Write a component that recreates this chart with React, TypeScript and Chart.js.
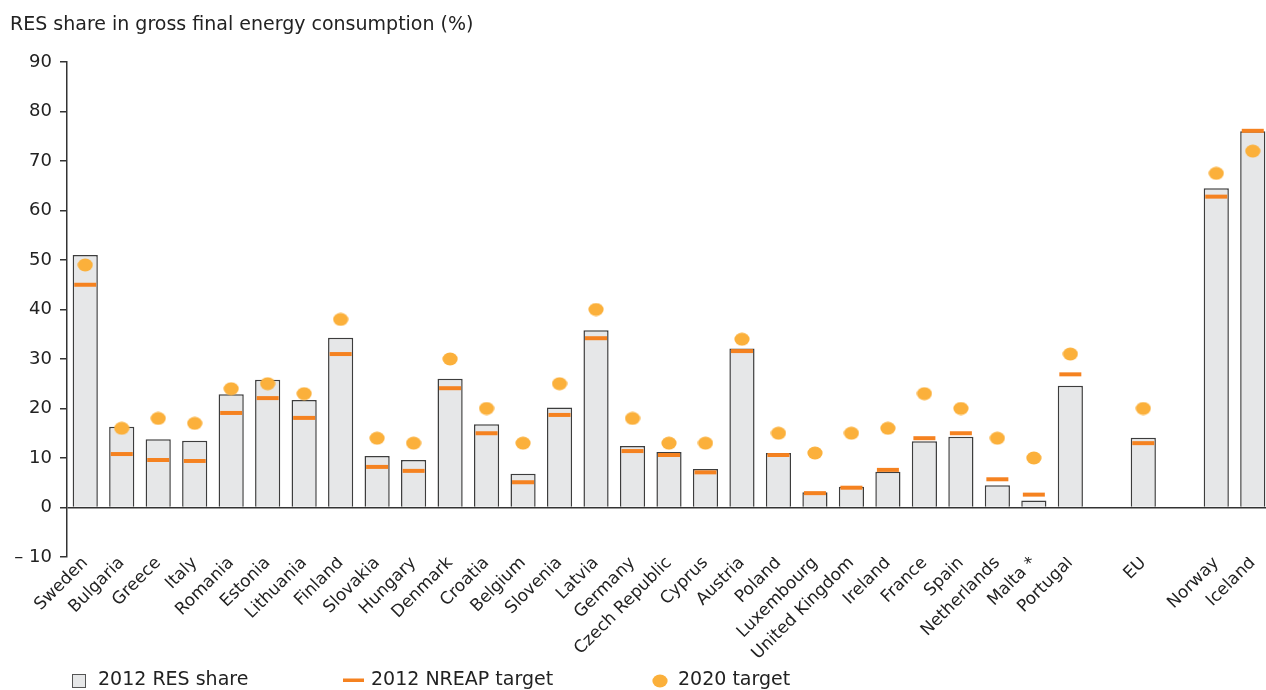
import React, { useEffect, useRef } from "react";
import { Chart, registerables } from "chart.js";

Chart.register(...registerables);

const FONT_FAMILY = '"DejaVu Sans", Verdana, sans-serif';
const TICK_FONT_SIZE = 18;
const XLABEL_FONT_SIZE = 17;
const TEXT_FONT_SIZE = 19;
const TEXT_COLOR = "#222222";
const BAR_FILL = "#e6e7e8";
const BAR_BORDER = "#3d3d3d";
const NREAP_COLOR = "#f58220";
const TARGET_COLOR = "#fbb03b";

const TITLE = "RES share in gross final energy consumption (%)";

const categories = [
  "Sweden", "Bulgaria", "Greece", "Italy", "Romania", "Estonia", "Lithuania",
  "Finland", "Slovakia", "Hungary", "Denmark", "Croatia", "Belgium", "Slovenia",
  "Latvia", "Germany", "Czech Republic", "Cyprus", "Austria", "Poland",
  "Luxembourg", "United Kingdom", "Ireland", "France", "Spain", "Netherlands",
  "Malta *", "Portugal", "", "EU", "", "Norway", "Iceland",
];

const res2012 = [
  51.0, 16.3, 13.8, 13.5, 22.9, 25.8, 21.7, 34.3, 10.4, 9.6, 26.0, 16.8, 6.8,
  20.2, 35.8, 12.4, 11.2, 7.8, 32.1, 11.0, 3.1, 4.2, 7.2, 13.4, 14.3, 4.5, 1.4,
  24.6, null, 14.1, null, 64.5, 76.0,
];

const nreap2012 = [
  45.0, 10.8, 9.6, 9.4, 19.1, 22.1, 18.1, 31.0, 8.2, 7.4, 24.1, 15.0, 5.1,
  18.7, 34.2, 11.4, 10.6, 7.1, 31.6, 10.6, 2.9, 4.0, 7.6, 14.0, 15.0, 5.7, 2.6,
  26.9, null, 13.0, null, 62.8, 76.1,
];

const target2020 = [
  49, 16, 18, 17, 24, 25, 23, 38, 14, 13, 30, 20, 13, 25, 40, 18, 13, 13, 34,
  15, 11, 15, 16, 23, 20, 14, 10, 31, null, 20, null, 67.5, 72,
];

const legendLabels = ["2012 RES share", "2012 NREAP target", "2020 target"];

const Y_MIN = -10;
const Y_MAX = 90;
const Y_STEP = 10;

export default function App() {
  const ref = useRef<HTMLCanvasElement | null>(null);

  useEffect(() => {
    if (!ref.current) return;

    const dot = document.createElement("canvas");
    dot.width = 16;
    dot.height = 14;
    const dctx = dot.getContext("2d");
    if (dctx) {
      dctx.fillStyle = TARGET_COLOR;
      dctx.beginPath();
      dctx.ellipse(8, 7, 7.6, 6.4, 0, 0, Math.PI * 2);
      dctx.fill();
    }

    const font = `${TEXT_FONT_SIZE}px ${FONT_FAMILY}`;

    const decorPlugin = {
      id: "decor",
      afterDraw(chart: any) {
        const ctx = chart.ctx as CanvasRenderingContext2D;
        ctx.save();
        ctx.font = font;
        ctx.fillStyle = TEXT_COLOR;
        ctx.textBaseline = "middle";
        ctx.textAlign = "left";
        // title
        ctx.fillText(TITLE, 10, 25);

        const ly = 680;
        // item 1: box
        ctx.fillStyle = BAR_FILL;
        ctx.fillRect(72, ly - 6, 14, 14);
        ctx.strokeStyle = "#555";
        ctx.lineWidth = 1;
        ctx.strokeRect(72.5, ly - 5.5, 13, 13);
        ctx.fillStyle = TEXT_COLOR;
        ctx.fillText(legendLabels[0], 98, ly);
        // item 2: line
        ctx.fillStyle = NREAP_COLOR;
        ctx.fillRect(343, ly - 1.5, 21, 3.5);
        ctx.fillStyle = TEXT_COLOR;
        ctx.fillText(legendLabels[1], 371, ly);
        // item 3: dot
        ctx.drawImage(dot, 652, ly - 6);
        ctx.fillStyle = TEXT_COLOR;
        ctx.fillText(legendLabels[2], 678, ly);
        ctx.restore();
      },
    };

    const chart = new Chart(ref.current, {
      type: "bar",
      data: {
        labels: categories,
        datasets: [
          {
            type: "line",
            label: legendLabels[2],
            data: target2020,
            showLine: false,
            pointStyle: dot as any,
            pointRadius: 8,
            backgroundColor: TARGET_COLOR,
            borderColor: TARGET_COLOR,
            order: 1,
          },
          {
            type: "line",
            label: legendLabels[1],
            data: nreap2012,
            showLine: false,
            pointStyle: "line",
            pointRadius: 11,
            pointBorderWidth: 4,
            pointBorderColor: NREAP_COLOR,
            borderColor: NREAP_COLOR,
            backgroundColor: NREAP_COLOR,
            order: 2,
          },
          {
            type: "bar",
            label: legendLabels[0],
            data: res2012,
            backgroundColor: BAR_FILL,
            borderColor: BAR_BORDER,
            borderWidth: 1.5,
            categoryPercentage: 1,
            barPercentage: 0.69,
            order: 3,
          },
        ] as any,
      },
      options: {
        responsive: false,
        animation: false,
        events: [],
        layout: { padding: { top: 62, right: 2, bottom: 0, left: 0 } },
        plugins: {
          legend: { display: false },
          title: { display: false },
          tooltip: { enabled: false },
        },
        scales: {
          x: {
            type: "category",
            offset: true,
            grid: { display: false, drawTicks: false },
            border: { display: false },
            ticks: {
              autoSkip: false,
              maxRotation: 45,
              minRotation: 45,
              padding: -4,
              color: TEXT_COLOR,
              font: { family: FONT_FAMILY, size: XLABEL_FONT_SIZE },
            },
            afterFit(scale: any) {
              scale.height = 133;
            },
          },
          y: {
            min: Y_MIN,
            max: Y_MAX,
            ticks: {
              stepSize: Y_STEP,
              padding: 8,
              color: TEXT_COLOR,
              font: { family: FONT_FAMILY, size: TICK_FONT_SIZE },
              callback: (v: any) => (Number(v) < 0 ? "\u2013 " + Math.abs(Number(v)) : String(v)),
            },
            grid: {
              color: (c: any) => (c.tick && c.tick.value === 0 ? "#333333" : "rgba(0,0,0,0)"),
              lineWidth: 1.5,
              tickColor: "#333333",
              tickLength: 7,
              drawTicks: true,
            },
            border: { display: true, color: "#333333", width: 1.5 },
            afterFit(scale: any) {
              scale.width = 67;
            },
          },
        },
      } as any,
      plugins: [decorPlugin],
    });

    return () => chart.destroy();
  }, []);

  return (
    <div
      style={{
        position: "fixed",
        left: 0,
        top: 0,
        width: 1266,
        height: 690,
        overflow: "hidden",
        background: "#ffffff",
      }}
    >
      <canvas ref={ref} width={1286} height={690} style={{ width: 1286, height: 690, display: "block" }} />
    </div>
  );
}
